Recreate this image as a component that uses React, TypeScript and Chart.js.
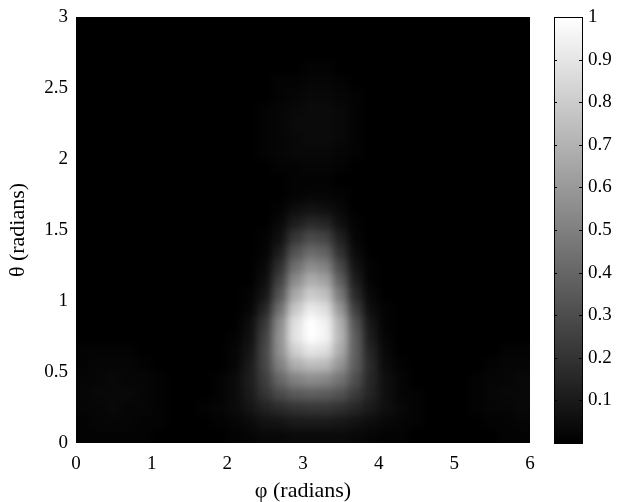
import React, { useEffect, useRef } from "react";
import { Chart, registerables } from "chart.js";

Chart.register(...registerables);

// ---- grid (cell centres) ----
const phiCenters = [
  0.1, 0.3, 0.5, 0.7, 0.9, 1.1, 1.3, 1.5, 1.7, 1.9, 2.1, 2.3, 2.5, 2.7, 2.9,
  3.1, 3.3, 3.5, 3.7, 3.9, 4.1, 4.3, 4.5, 4.7, 4.9, 5.1, 5.3, 5.5, 5.7, 5.9,
];
const thetaCenters = [
  0.05, 0.15, 0.25, 0.35, 0.45, 0.55, 0.65, 0.75, 0.85, 0.95, 1.05, 1.15, 1.25,
  1.35, 1.45, 1.55, 1.65, 1.75, 1.85, 1.95, 2.05, 2.15, 2.25, 2.35, 2.45, 2.55,
  2.65, 2.75, 2.85, 2.95,
];
const phiCellWidth = 0.2;
const thetaCellHeight = 0.1;

// normalised intensity in percent; one row per theta centre (bottom to top)
const intensityPct: number[][] = [
  [1,1,1,1,1,0,0,0,0,0,1,2,3,3,4,4,4,4,3,2,1,1,0,0,0,0,0,0,1,1],
  [1,2,2,2,1,1,0,0,0,1,2,4,7,8,10,10,10,9,7,5,3,2,1,0,0,0,0,1,1,2],
  [2,2,3,2,2,1,0,0,1,2,4,8,13,17,20,21,21,19,15,10,6,3,1,0,0,0,1,2,2,3],
  [2,3,3,3,2,1,0,0,0,1,4,10,20,29,35,37,36,32,23,14,6,2,1,0,0,0,1,2,3,3],
  [2,2,3,2,2,1,0,0,0,1,4,11,24,40,51,55,53,45,31,15,6,2,0,0,0,0,1,2,2,3],
  [1,2,2,2,1,0,0,0,0,0,2,10,27,50,68,74,72,58,36,16,4,1,0,0,0,0,0,1,2,2],
  [1,1,1,1,0,0,0,0,0,0,2,8,27,56,81,90,87,67,37,14,3,0,0,0,0,0,0,0,1,1],
  [0,0,0,0,0,0,0,0,0,0,1,6,25,57,89,100,96,71,36,11,2,0,0,0,0,0,0,0,0,0],
  [0,0,0,0,0,0,0,0,0,0,0,5,21,54,88,100,95,69,32,9,1,0,0,0,0,0,0,0,0,0],
  [0,0,0,0,0,0,0,0,0,0,0,2,14,44,78,92,87,59,24,5,1,0,0,0,0,0,0,0,0,0],
  [0,0,0,0,0,0,0,0,0,0,0,1,8,33,66,80,75,47,16,3,0,0,0,0,0,0,0,0,0,0],
  [0,0,0,0,0,0,0,0,0,0,0,0,5,25,54,68,63,37,11,1,0,0,0,0,0,0,0,0,0,0],
  [0,0,0,0,0,0,0,0,0,0,0,0,3,18,43,55,50,28,7,1,0,0,0,0,0,0,0,0,0,0],
  [0,0,0,0,0,0,0,0,0,0,0,0,1,11,32,42,38,19,4,0,0,0,0,0,0,0,0,0,0,0],
  [0,0,0,0,0,0,0,0,0,0,0,0,1,6,21,29,26,12,2,0,0,0,0,0,0,0,0,0,0,0],
  [0,0,0,0,0,0,0,0,0,0,0,0,0,3,11,16,14,6,1,0,0,0,0,0,0,0,0,0,0,0],
  [0,0,0,0,0,0,0,0,0,0,0,0,0,1,5,7,6,3,0,0,0,0,0,0,0,0,0,0,0,0],
  [0,0,0,0,0,0,0,0,0,0,0,0,0,0,1,2,2,1,0,0,0,0,0,0,0,0,0,0,0,0],
  [0,0,0,0,0,0,0,0,0,0,0,0,0,0,1,1,1,0,0,0,0,0,0,0,0,0,0,0,0,0],
  [0,0,0,0,0,0,0,0,0,0,0,0,0,1,1,2,2,1,0,0,0,0,0,0,0,0,0,0,0,0],
  [0,0,0,0,0,0,0,0,0,0,0,0,1,2,3,3,3,2,1,0,0,0,0,0,0,0,0,0,0,0],
  [0,0,0,0,0,0,0,0,0,0,0,0,1,2,3,4,4,3,1,0,0,0,0,0,0,0,0,0,0,0],
  [0,0,0,0,0,0,0,0,0,0,0,0,1,2,4,4,4,3,1,0,0,0,0,0,0,0,0,0,0,0],
  [0,0,0,0,0,0,0,0,0,0,0,0,1,2,3,4,4,3,1,0,0,0,0,0,0,0,0,0,0,0],
  [0,0,0,0,0,0,0,0,0,0,0,0,0,1,2,3,3,2,1,0,0,0,0,0,0,0,0,0,0,0],
  [0,0,0,0,0,0,0,0,0,0,0,0,0,1,1,2,2,1,0,0,0,0,0,0,0,0,0,0,0,0],
  [0,0,0,0,0,0,0,0,0,0,0,0,0,0,0,1,1,0,0,0,0,0,0,0,0,0,0,0,0,0],
  [0,0,0,0,0,0,0,0,0,0,0,0,0,0,0,0,0,0,0,0,0,0,0,0,0,0,0,0,0,0],
  [0,0,0,0,0,0,0,0,0,0,0,0,0,0,0,0,0,0,0,0,0,0,0,0,0,0,0,0,0,0],
  [0,0,0,0,0,0,0,0,0,0,0,0,0,0,0,0,0,0,0,0,0,0,0,0,0,0,0,0,0,0],
];

// axes
const phiRange = [0, 6];
const thetaRange = [0, 3];
const phiTickStep = 1;
const thetaTickStep = 0.5;
const colorbarRange = [0, 1];
const colorbarTickStep = 0.1;
const xTitle = "φ (radians)";
const yTitle = "θ (radians)";

const FONT = "'Liberation Serif', 'Times New Roman', serif";

type Cell = { x: number; y: number; v: number };

const heatmapPlugin = {
  id: "heatmapCells",
  beforeDatasetsDraw(chart: any) {
    const { ctx, chartArea: a, scales } = chart;
    const xs = scales.x;
    const ys = scales.y;
    const P = 24;
    const w = Math.round(a.right - a.left);
    const h = Math.round(a.bottom - a.top);
    const off = document.createElement("canvas");
    off.width = w + 2 * P;
    off.height = h + 2 * P;
    const o = off.getContext("2d")!;
    o.fillStyle = "#000";
    o.fillRect(0, 0, off.width, off.height);
    const cells: Cell[] = chart.data.datasets[0].data;
    for (const c of cells) {
      const x0v = c.x - phiCellWidth / 2;
      const x1v = c.x + phiCellWidth / 2;
      const y0v = c.y - thetaCellHeight / 2;
      const y1v = c.y + thetaCellHeight / 2;
      let left = xs.getPixelForValue(x0v) - a.left + P;
      let right = xs.getPixelForValue(x1v) - a.left + P;
      let top = ys.getPixelForValue(y1v) - a.top + P;
      let bottom = ys.getPixelForValue(y0v) - a.top + P;
      if (x0v <= xs.min + 1e-9) left -= P;
      if (x1v >= xs.max - 1e-9) right += P;
      if (y0v <= ys.min + 1e-9) bottom += P;
      if (y1v >= ys.max - 1e-9) top -= P;
      const g = Math.round(255 * c.v);
      o.fillStyle = `rgb(${g},${g},${g})`;
      o.fillRect(Math.floor(left), Math.floor(top), Math.ceil(right) - Math.floor(left), Math.ceil(bottom) - Math.floor(top));
    }
    ctx.save();
    ctx.fillStyle = "#000";
    ctx.fillRect(a.left, a.top, a.right - a.left, a.bottom - a.top);
    ctx.beginPath();
    ctx.rect(a.left, a.top, a.right - a.left, a.bottom - a.top);
    ctx.clip();
    ctx.filter = "blur(4px)";
    ctx.drawImage(off, a.left - P, a.top - P);
    ctx.restore();
  },
};

const colorbarPlugin = {
  id: "colorbar",
  afterDraw(chart: any) {
    const { ctx } = chart;
    const cb = chart.scales.cb;
    const x0 = cb.left + 24;
    const x1 = cb.left + 52;
    const yTop = cb.getPixelForValue(colorbarRange[1]);
    const yBot = cb.getPixelForValue(colorbarRange[0]);
    ctx.save();
    const grad = ctx.createLinearGradient(0, yBot, 0, yTop);
    grad.addColorStop(0, "#000");
    grad.addColorStop(1, "#fff");
    ctx.fillStyle = grad;
    ctx.fillRect(x0, yTop, x1 - x0, yBot - yTop);
    ctx.strokeStyle = "#000";
    ctx.lineWidth = 1;
    ctx.strokeRect(Math.round(x0) + 0.5, Math.round(yTop) + 0.5, Math.round(x1 - x0), Math.round(yBot - yTop));
    for (const t of cb.ticks) {
      const yy = Math.round(cb.getPixelForValue(t.value)) + 0.5;
      ctx.beginPath();
      ctx.moveTo(x0, yy);
      ctx.lineTo(x0 + 3, yy);
      ctx.moveTo(x1 - 3, yy);
      ctx.lineTo(x1 + 1, yy);
      ctx.stroke();
    }
    ctx.restore();
  },
};

export default function App() {
  const canvasRef = useRef<HTMLCanvasElement | null>(null);

  useEffect(() => {
    document.body.style.margin = "0";
    const cells: Cell[] = [];
    thetaCenters.forEach((th, r) => {
      phiCenters.forEach((ph, c) => {
        cells.push({ x: ph, y: th, v: intensityPct[r][c] / 100 });
      });
    });

    const tickFont = { family: FONT, size: 19 };
    const titleFont = { family: FONT, size: 22, lineHeight: 1 };
    const noVPad = (s: any) => {
      s.paddingTop = 0;
      s.paddingBottom = 0;
    };

    const chart = new Chart(canvasRef.current!, {
      type: "scatter",
      data: {
        datasets: [
          {
            data: cells as any,
            pointRadius: 0,
            pointHoverRadius: 0,
          },
        ],
      },
      plugins: [heatmapPlugin, colorbarPlugin],
      options: {
        animation: false,
        responsive: false,
        events: [],
        layout: { padding: { top: 17, left: 0, right: 0, bottom: 0 } },
        plugins: {
          legend: { display: false },
          tooltip: { enabled: false },
        },
        scales: {
          x: {
            type: "linear",
            position: "bottom",
            min: phiRange[0],
            max: phiRange[1],
            grid: { display: false, drawTicks: false },
            border: { display: false },
            ticks: {
              stepSize: phiTickStep,
              color: "#000",
              font: tickFont,
              padding: 10,
              maxRotation: 0,
              callback: (v: any) => String(v),
            },
            title: {
              display: true,
              text: xTitle,
              color: "#000",
              font: titleFont,
              padding: { top: 0, bottom: 0 },
            },
            afterFit: (s: any) => {
              s.height = 59;
            },
          },
          y: {
            type: "linear",
            position: "left",
            min: thetaRange[0],
            max: thetaRange[1],
            grid: { display: false, drawTicks: false },
            border: { display: false },
            ticks: {
              stepSize: thetaTickStep,
              color: "#000",
              font: tickFont,
              padding: 8,
              callback: (v: any) => String(v),
            },
            title: {
              display: true,
              text: yTitle,
              color: "#000",
              font: titleFont,
              padding: { top: 7, bottom: 0 },
            },
            afterFit: (s: any) => {
              s.width = 76;
              noVPad(s);
            },
          },
          cb: {
            type: "linear",
            axis: "y",
            position: "right",
            min: colorbarRange[0],
            max: colorbarRange[1],
            grid: { display: false, drawTicks: false },
            border: { display: false },
            ticks: {
              stepSize: colorbarTickStep,
              color: "#000",
              font: tickFont,
              padding: 58,
              callback: (v: any) => (v === 0 ? "" : String(v)),
            },
            afterFit: (s: any) => {
              s.width = 102;
              noVPad(s);
            },
          },
        } as any,
      },
    });
    return () => chart.destroy();
  }, []);

  return (
    <div style={{ width: 632, height: 502 }}>
      <canvas ref={canvasRef} width={632} height={502} style={{ display: "block" }} />
    </div>
  );
}
